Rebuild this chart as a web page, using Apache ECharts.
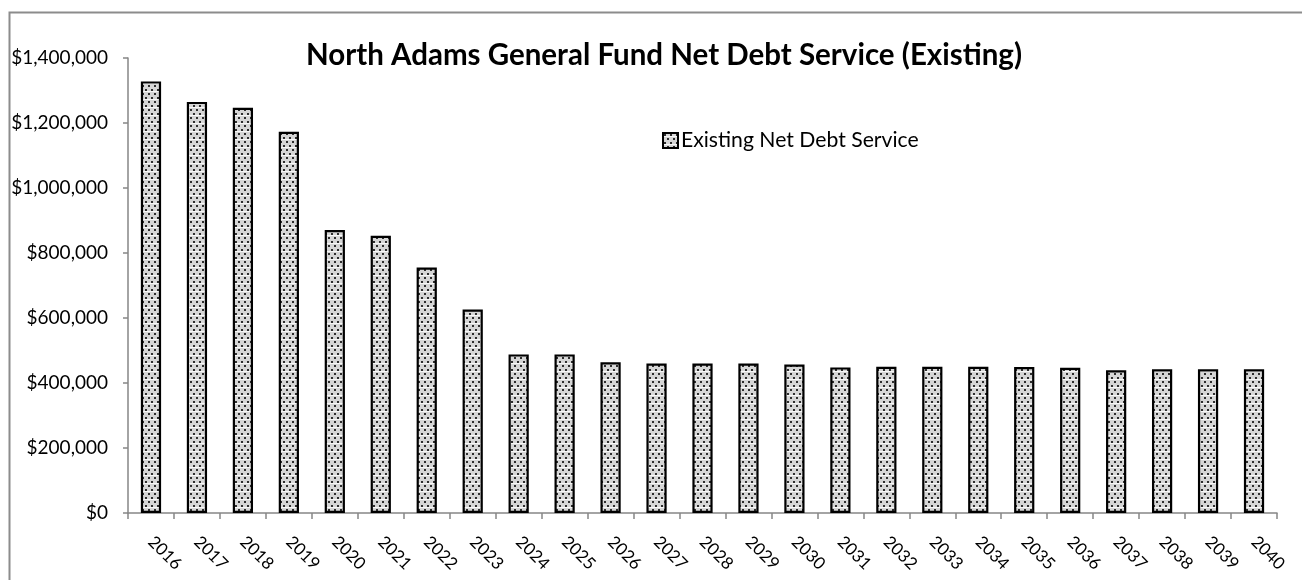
<!DOCTYPE html>
<html>
<head>
<meta charset="utf-8">
<style>
  html, body { margin: 0; padding: 0; background: #ffffff; }
  #chart { width: 1302px; height: 580px; }
</style>
<script src="https://cdn.jsdelivr.net/npm/echarts@6/dist/echarts.min.js"></script>
</head>
<body>
<div id="chart"></div>
<script>
// Fiscal years shown on the category axis
const years = ['2016','2017','2018','2019','2020','2021','2022','2023','2024','2025','2026','2027','2028',
  '2029','2030','2031','2032','2033','2034','2035','2036','2037','2038','2039','2040'];

// Existing net debt service by year (dollars)
const netDebtService = [1328000, 1265000, 1247000, 1173000, 871000, 853000, 755000, 626000, 488000, 488000,
  464000, 460000, 460000, 460000, 457000, 448000, 450000, 450000, 450000, 449000, 447000, 439000, 442000,
  442000, 442000];

const seriesName = 'Existing Net Debt Service';
const chartTitle = 'North Adams General Fund Net Debt Service (Existing)';

const FONT = 'Lato, "Open Sans", sans-serif';

// Dotted fill used for the bars (staggered dark dots on a light grey ground)
function makeDotPattern() {
  const c = document.createElement('canvas');
  c.width = 6; c.height = 8;
  const g = c.getContext('2d');
  g.fillStyle = '#d6d6d6';
  g.fillRect(0, 0, 6, 8);
  g.fillStyle = '#f8f8f8';
  g.fillRect(0, 3, 6, 1);
  g.fillStyle = '#2e2e2e';
  g.fillRect(1, 1, 2, 2);
  g.fillRect(4, 5, 2, 2);
  return c;
}

const chart = echarts.init(document.getElementById('chart'), null, { renderer: 'canvas' });

const pattern = { image: makeDotPattern(), repeat: 'repeat' };

chart.setOption({
  backgroundColor: '#ffffff',
  animation: false,
  title: {
    text: chartTitle,
    left: 659,
    top: 35,
    textAlign: 'center',
    textStyle: { fontFamily: FONT, fontWeight: 'bold', fontSize: 29.5, color: '#000000' }
  },
  legend: {
    data: [seriesName],
    left: 657,
    top: 125,
    icon: 'rect',
    itemWidth: 15,
    itemHeight: 15,
    itemGap: 6,
    textStyle: { fontFamily: FONT, fontSize: 21.2, color: '#000000', padding: [0, 0, 0, -2] }
  },
  grid: { left: 128, right: 25, top: 58, bottom: 67, containLabel: false },
  xAxis: {
    type: 'category',
    data: years,
    boundaryGap: true,
    axisLine: { lineStyle: { color: '#868686', width: 1.5 } },
    axisTick: { show: true, alignWithLabel: false, length: 6, lineStyle: { color: '#868686', width: 1.5 } },
    axisLabel: {
      rotate: -45,
      align: 'left',
      verticalAlign: 'middle',
      margin: 26,
      fontFamily: FONT,
      fontSize: 17,
      color: '#000000',
      interval: 0
    }
  },
  yAxis: {
    type: 'value',
    min: 0,
    max: 1400000,
    interval: 200000,
    axisLine: { show: true, lineStyle: { color: '#868686', width: 1.5 } },
    axisTick: { show: true, length: 5, lineStyle: { color: '#868686', width: 1.5 } },
    splitLine: { show: false },
    axisLabel: {
      margin: 20,
      fontFamily: FONT,
      fontSize: 19,
      color: '#000000',
      formatter: v => '$' + v.toLocaleString('en-US')
    }
  },
  series: [{
    name: seriesName,
    type: 'bar',
    data: netDebtService,
    barWidth: '44%',
    itemStyle: { color: pattern, borderColor: '#000000', borderWidth: 2.2 }
  }],
  graphic: [{
    type: 'rect',
    left: 7,
    top: 10,
    shape: { width: 1320, height: 600 },
    style: { fill: null, stroke: '#8c8c8c', lineWidth: 2 },
    silent: true,
    z: -1
  }]
});
</script>
</body>
</html>
